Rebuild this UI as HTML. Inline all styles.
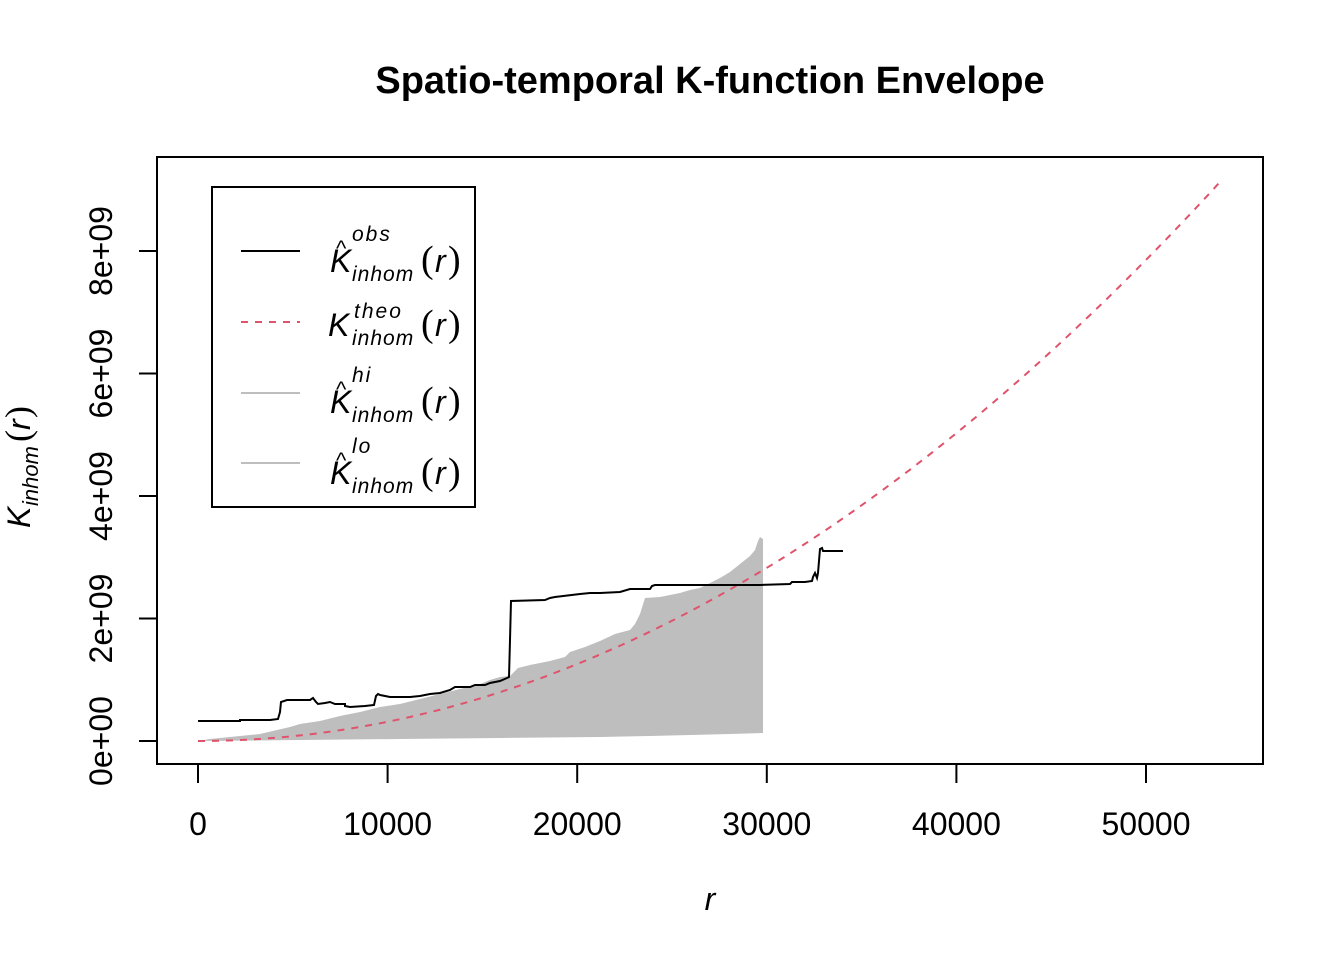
<!DOCTYPE html>
<html><head><meta charset="utf-8"><style>body{margin:0;background:#fff}svg{display:block}</style></head><body>
<svg width="1344" height="960" xmlns="http://www.w3.org/2000/svg" font-family="Liberation Sans, sans-serif">
<rect width="1344" height="960" fill="#fff"/>
<text x="710" y="93" font-size="38" font-weight="bold" text-anchor="middle">Spatio-temporal K-function Envelope</text>
<polygon fill="#bebebe" points="198,741 210,739 240,736 260,734 290,727 300,724 320,721 340,716 360,712 380,707 400,704 420,699 440,694 460,689 480,684 490,680 500,677 510,676 518,668 530,665 550,661 565,657 570,652 585,647 600,641 615,634 630,630 635,624 640,614 645,598 660,597 680,593 690,590 700,588 710,583 720,578 730,572 740,564 750,556 755,550 758,541 760,537 763,539 763,733 730,734 650,736 600,737 500,738 400,739 300,740 198,741"/>
<polyline fill="none" stroke="#DF536B" stroke-width="2" stroke-dasharray="7,7" points="198,741"/>
<polyline fill="none" stroke="#000" stroke-width="2" points="198,721 240,721 240,720 270,720 278,719 280,712 281,702 287,700 310,700 313,698 316,702 318,704 325,703 330,702 335,704 345,704 345,706 350,707 365,706 374,705 376,696 378,694 380,695 390,697 410,697 420,696 430,694 440,693 450,690 455,687 470,687 475,685 485,685 490,683 500,681 507,678 509,677 510,640 511,601 545,600 550,598 555,597 580,594 590,593 600,593 620,592 630,589 650,589 652,586 655,585 700,585 760,585 790,584 792,582 805,582 812,581 813,577 815,573 817,578 818,573 820,549 822,548 823,551 843,551"/>
<rect x="157" y="157" width="1106" height="607" fill="none" stroke="#000" stroke-width="2"/>
<g stroke="#000" stroke-width="2">
<line x1="198" y1="764" x2="198" y2="783"/><line x1="387.6" y1="764" x2="387.6" y2="783"/><line x1="577.2" y1="764" x2="577.2" y2="783"/><line x1="766.8" y1="764" x2="766.8" y2="783"/><line x1="956.4" y1="764" x2="956.4" y2="783"/><line x1="1146" y1="764" x2="1146" y2="783"/>
<line x1="157" y1="741" x2="139" y2="741"/><line x1="157" y1="618.5" x2="139" y2="618.5"/><line x1="157" y1="496" x2="139" y2="496"/><line x1="157" y1="373.5" x2="139" y2="373.5"/><line x1="157" y1="251" x2="139" y2="251"/>
</g>
<g font-size="32" text-anchor="middle">
<text x="198" y="835">0</text><text x="387.6" y="835">10000</text><text x="577.2" y="835">20000</text><text x="766.8" y="835">30000</text><text x="956.4" y="835">40000</text><text x="1146" y="835">50000</text>
<text transform="translate(112,741) rotate(-90)">0e+00</text>
<text transform="translate(112,618.5) rotate(-90)">2e+09</text>
<text transform="translate(112,496) rotate(-90)">4e+09</text>
<text transform="translate(112,373.5) rotate(-90)">6e+09</text>
<text transform="translate(112,251) rotate(-90)">8e+09</text>
</g>
<text x="710" y="910" font-size="32" font-style="italic" text-anchor="middle">r</text>
<g transform="translate(30,528) rotate(-90)">
<text x="0" y="0" font-size="32" font-style="italic">K</text>
<text x="22" y="8" font-size="22" font-style="italic">inhom</text>
<text x="86" y="0" font-size="36" font-family="Liberation Serif, serif">(</text><text x="98" y="0" font-size="32" font-style="italic">r</text><text x="110" y="0" font-size="36" font-family="Liberation Serif, serif">)</text>
</g>
<rect x="212" y="187" width="263" height="320" fill="#fff" stroke="#000" stroke-width="2"/>
<line x1="241" y1="251" x2="300" y2="251" stroke="#000" stroke-width="2"/>
<line x1="241" y1="322" x2="300" y2="322" stroke="#DF536B" stroke-width="2" stroke-dasharray="7,7"/>
<line x1="241" y1="393" x2="300" y2="393" stroke="#bebebe" stroke-width="2"/>
<line x1="241" y1="463" x2="300" y2="463" stroke="#bebebe" stroke-width="2"/>
<g font-style="italic">
<g transform="translate(330,272)"><text x="0" y="0" font-size="32">K</text><text x="6" y="-16" font-size="22" font-style="normal">^</text><text x="22" y="-31" font-size="21" letter-spacing="2">obs</text><text x="22" y="9" font-size="21" letter-spacing="1">inhom</text><text x="91" y="0" font-size="38" font-style="normal" font-family="Liberation Serif, serif">(</text><text x="105" y="0" font-size="32">r</text><text x="118" y="0" font-size="38" font-style="normal" font-family="Liberation Serif, serif">)</text></g>
<g transform="translate(328,336)"><text x="0" y="0" font-size="32">K</text><text x="26" y="-18" font-size="21" letter-spacing="2">theo</text><text x="24" y="9" font-size="21" letter-spacing="1">inhom</text><text x="93" y="0" font-size="38" font-style="normal" font-family="Liberation Serif, serif">(</text><text x="107" y="0" font-size="32">r</text><text x="120" y="0" font-size="38" font-style="normal" font-family="Liberation Serif, serif">)</text></g>
<g transform="translate(330,413)"><text x="0" y="0" font-size="32">K</text><text x="6" y="-16" font-size="22" font-style="normal">^</text><text x="22" y="-31" font-size="21" letter-spacing="2">hi</text><text x="22" y="9" font-size="21" letter-spacing="1">inhom</text><text x="91" y="0" font-size="38" font-style="normal" font-family="Liberation Serif, serif">(</text><text x="105" y="0" font-size="32">r</text><text x="118" y="0" font-size="38" font-style="normal" font-family="Liberation Serif, serif">)</text></g>
<g transform="translate(330,484)"><text x="0" y="0" font-size="32">K</text><text x="6" y="-16" font-size="22" font-style="normal">^</text><text x="22" y="-31" font-size="21" letter-spacing="2">lo</text><text x="22" y="9" font-size="21" letter-spacing="1">inhom</text><text x="91" y="0" font-size="38" font-style="normal" font-family="Liberation Serif, serif">(</text><text x="105" y="0" font-size="32">r</text><text x="118" y="0" font-size="38" font-style="normal" font-family="Liberation Serif, serif">)</text></g>
</g>
<script>
(function(){var pts=[];for(var r=0;r<=54000;r+=400){var x=198+r*0.01896;var y=741-Math.PI*r*r/1e9*61.25;pts.push(x.toFixed(1)+","+y.toFixed(1));}
var ls=document.querySelectorAll('polyline');ls[0].setAttribute('points',pts.join(' '));})();
</script>
</svg>
</body></html>
